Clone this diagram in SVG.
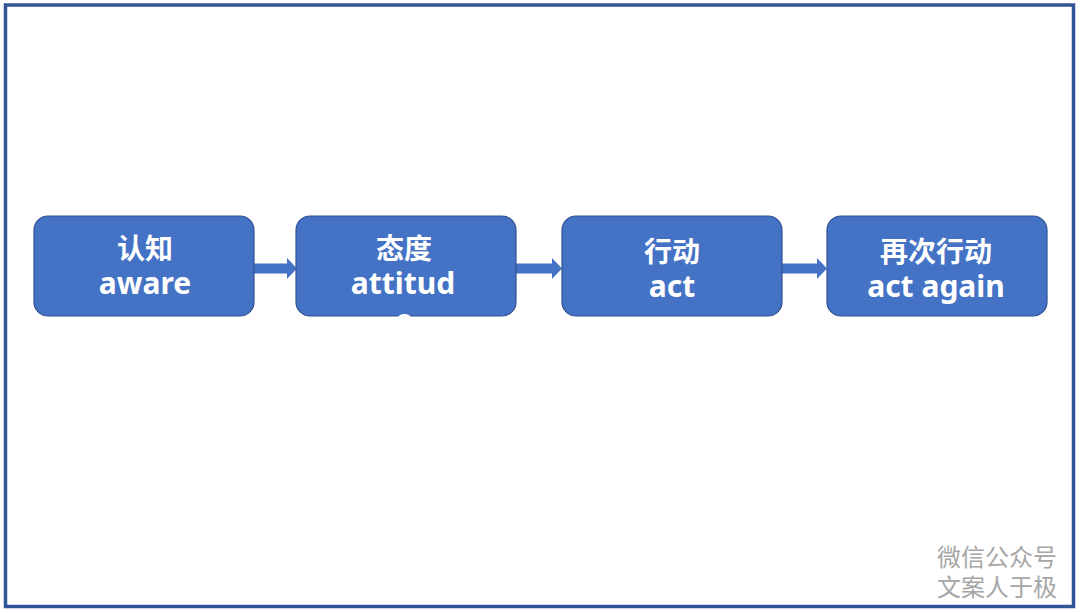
<svg xmlns="http://www.w3.org/2000/svg" width="1080" height="613" viewBox="0 0 1080 613">
<style>
.node rect{fill:#4472c4;stroke:#2f528f;stroke-width:1.2}
.zh{font-family:"Noto Sans CJK SC",sans-serif;font-weight:700;font-size:28px;fill:#fff;text-anchor:middle}
.en{font-family:"Noto Sans","Noto Sans CJK SC",sans-serif;font-weight:700;font-size:30px;fill:#fff;text-anchor:middle;font-variant-ligatures:none}
.wm{font-family:"Noto Sans CJK SC",sans-serif;font-size:24px;fill:#a6a6a6}
.conn path{fill:#4472c4}
</style>
<rect x="0" y="0" width="1080" height="613" fill="#fff"/>
<rect x="5.5" y="5" width="1068" height="601.5" fill="none" stroke="#2f5597" stroke-width="3.5"/>
<g class="conn">
<path d="M254,263.5 H287 V258 L297,268.5 L287,279 V273.5 H254 Z"/>
<path d="M516,263.5 H552 V258 L562,268.5 L552,279 V273.5 H516 Z"/>
<path d="M782,263.5 H817 V258 L827,268.5 L817,279 V273.5 H782 Z"/>
</g>
<g id="n1" class="node">
<rect x="34" y="216" width="220" height="100" rx="14"/>
<text class="zh" x="145" y="259">认知</text>
<text class="en" x="145" y="294">aware</text>
</g>
<g id="n2" class="node">
<rect x="296" y="216" width="220" height="100" rx="14"/>
<text class="zh" x="404" y="259">态度</text>
<text class="en" x="403" y="294">attitud</text>
<text class="en" x="404" y="331">e</text>
</g>
<g id="n3" class="node">
<rect x="562" y="216" width="220" height="100" rx="14"/>
<text class="zh" x="672" y="262">行动</text>
<text class="en" x="672" y="297">act</text>
</g>
<g id="n4" class="node">
<rect x="827" y="216" width="220" height="100" rx="14"/>
<text class="zh" x="936" y="262">再次行动</text>
<text class="en" x="936" y="297">act again</text>
</g>
<text class="wm" x="937" y="566">微信公众号</text>
<text class="wm" x="937" y="596">文案人于极</text>
</svg>
